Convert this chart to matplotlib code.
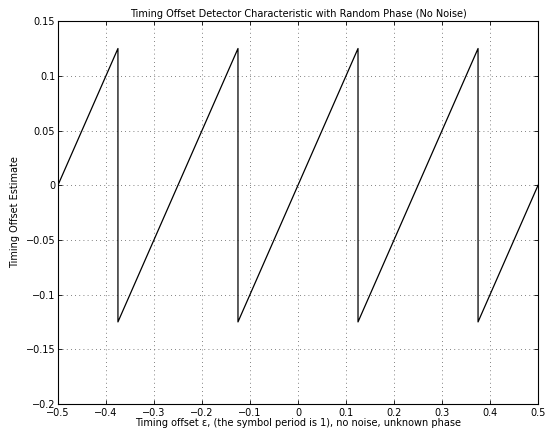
import numpy as np
import matplotlib
matplotlib.use("Agg")
import matplotlib.pyplot as plt

# sawtooth vertices
x = [-0.5, -0.375, -0.375, -0.125, -0.125, 0.125, 0.125, 0.375, 0.375, 0.5]
y = [0.0, 0.125, -0.125, 0.125, -0.125, 0.125, -0.125, 0.125, -0.125, 0.0]

xticks = [-0.5, -0.4, -0.3, -0.2, -0.1, 0, 0.1, 0.2, 0.3, 0.4, 0.5]
yticks = [-0.2, -0.15, -0.1, -0.05, 0, 0.05, 0.1, 0.15]

fig = plt.figure(figsize=(5.57, 4.41), dpi=100)
ax = fig.add_axes([0.104, 0.084, 0.862, 0.868])
ax.plot(x, y, color="black", lw=0.9)
ax.set_xlim(-0.5, 0.5)
ax.set_ylim(-0.2, 0.15)
ax.set_xticks(xticks)
ax.set_yticks(yticks)
ax.set_xticklabels(["\u22120.5", "\u22120.4", "\u22120.3", "\u22120.2", "\u22120.1", "0",
                    "0.1", "0.2", "0.3", "0.4", "0.5"])
ax.set_yticklabels(["\u22120.2", "\u22120.15", "\u22120.1", "\u22120.05", "0",
                    "0.05", "0.1", "0.15"])
ax.tick_params(labelsize=7, direction="in", length=3, width=0.6, top=True, right=True)
ax.tick_params(axis="x", pad=3)
ax.tick_params(axis="y", pad=2)
ax.grid(True, linestyle=(0, (1, 4)), color="0.35", lw=0.6)
for s in ax.spines.values():
    s.set_linewidth(0.8)
ax.set_title("Timing Offset Detector Characteristic with Random Phase (No Noise)", fontsize=7, pad=3)
ax.set_xlabel("Timing offset \u03b5, (the symbol period is 1), no noise, unknown phase", fontsize=7, labelpad=0)
ax.set_ylabel("Timing Offset Estimate", fontsize=7, labelpad=4)
fig.savefig("out.png", dpi=100)
